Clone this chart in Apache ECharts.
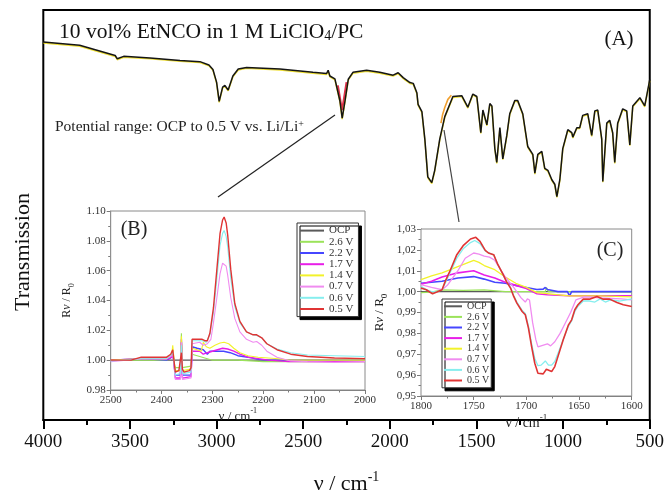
<!DOCTYPE html>
<html>
<head>
<meta charset="utf-8">
<script src="https://cdn.jsdelivr.net/npm/echarts@6/dist/echarts.min.js"></script>
<style>
  html, body { margin: 0; padding: 0; background: #fff; }
  #chart { width: 667px; height: 500px; }
</style>
</head>
<body>
<div id="chart"></div>
<script>
// ---- Panel (A): full FTIR transmission spectrum, [wavenumber cm-1, transmission a.u.] ----
const mainSpectrum = [
  [4000,92.2],[3790,91.4],[3585,88.9],[3573,88.1],[3536,88.7],[3384,88.3],[3211,87.7],[3096,87.4],
  [3044,86.6],[3021,85.5],[3000,82.4],[2985,77.7],[2965,81.2],[2952,81.6],[2933,80.5],[2906,83.9],
  [2875,85.6],[2827,86.0],[2634,85.6],[2444,84.8],[2365,84.5],[2356,85.3],[2346,83.9],[2317,83.2],
  [2288,77.8],[2275,73.6],[2259,77.8],[2240,83.1],[2213,84.8],[2134,85.3],[2058,84.8],[1981,84.1],
  [1952,84.7],[1923,83.5],[1884,82.3],[1865,82.1],[1844,79.8],[1837,77.0],[1815,75.2],[1798,68.5],
  [1781,59.3],[1758,57.9],[1741,60.9],[1712,68.5],[1683,74.0],[1636,78.9],[1585,79.1],[1550,76.3],
  [1521,79.5],[1498,78.9],[1475,70.1],[1463,75.6],[1440,72.0],[1423,77.2],[1411,76.6],[1394,66.2],
  [1383,62.8],[1365,71.3],[1348,63.7],[1325,69.4],[1308,74.7],[1279,77.9],[1262,77.9],[1233,74.7],
  [1204,66.7],[1175,64.8],[1163,60.2],[1146,64.8],[1123,65.5],[1106,61.4],[1088,60.9],[1065,58.6],
  [1048,57.5],[1036,54.5],[1019,58.6],[1002,66.2],[973,70.8],[950,70.1],[944,69.0],[921,71.3],
  [904,71.3],[887,74.3],[858,74.7],[835,69.4],[817,75.4],[800,75.6],[777,68.5],[771,58.2],
  [748,72.4],[731,73.1],[714,70.1],[702,62.8],[685,72.4],[656,75.9],[633,75.4],[615,67.1],
  [598,76.6],[557,78.6],[529,76.6],[500,83.0]
];
// Polarised spectra that separate from OCP only in a few bands
const mainNcoBand05 = [[2300,81.6],[2288,78.6],[2276,75.6],[2264,78.6],[2250,82.4]];
const mainCoBand14 = [[1705,72.4],[1695,74.6],[1683,76.2],[1665,78.2],[1645,79.2]];

// ---- Panel (B): R/R0 in the NCO region, [wavenumber, R/R0] ----
const ncoOCP = [[2500,1.000],[2250,1.000],[2000,1.000]];
const nco26 = [[2500,1.000],[2440,1.000],[2390,1.000],[2380,1.002],[2378,1.004],[2375,0.997],[2373,0.995],
  [2363,0.995],[2361,1.018],[2359,0.995],[2356,0.995],[2342,0.996],[2340,1.004],[2330,1.003],[2320,1.002],
  [2300,1.000],[2250,1.000],[2200,0.999],[2100,0.999],[2000,0.999]];
const nco22 = [[2500,1.000],[2440,1.001],[2390,1.000],[2380,1.002],[2378,1.005],[2375,0.996],[2373,0.990],
  [2363,0.990],[2361,1.012],[2359,0.990],[2356,0.989],[2342,0.990],[2340,1.009],[2330,1.008],[2318,1.007],
  [2310,1.004],[2305,1.006],[2290,1.006],[2278,1.006],[2265,1.005],[2250,1.003],[2230,1.002],[2210,1.0005],
  [2190,1.000],[2100,1.000],[2000,1.000]];
const nco17 = [[2500,1.000],[2440,1.001],[2390,1.0005],[2380,1.002],[2378,1.005],[2375,0.996],[2373,0.988],
  [2363,0.988],[2361,1.014],[2359,0.988],[2356,0.987],[2342,0.989],[2340,1.006],[2325,1.006],[2318,1.004],
  [2310,1.005],[2300,1.006],[2290,1.007],[2280,1.008],[2270,1.0075],[2258,1.006],[2246,1.004],[2230,1.002],
  [2210,1.001],[2190,1.000],[2150,0.999],[2100,0.999],[2000,0.999]];
const nco14 = [[2500,1.000],[2440,1.001],[2390,1.001],[2380,1.004],[2378,1.010],[2375,0.999],[2373,0.993],
  [2363,0.993],[2361,1.016],[2359,0.993],[2356,0.993],[2342,0.994],[2340,1.008],[2330,1.007],[2322,1.006],
  [2318,1.012],[2312,1.009],[2305,1.008],[2295,1.010],[2285,1.0115],[2277,1.012],[2268,1.011],[2258,1.008],
  [2246,1.005],[2230,1.003],[2210,1.002],[2190,1.0015],[2170,1.001],[2150,1.000],[2100,1.000],[2000,1.000]];
const nco07 = [[2500,0.999],[2440,1.001],[2390,1.001],[2380,1.003],[2378,1.005],[2375,0.995],[2373,0.987],
  [2363,0.987],[2361,1.012],[2359,0.987],[2356,0.986],[2342,0.988],[2340,1.011],[2325,1.012],[2318,1.010],
  [2310,1.011],[2303,1.014],[2298,1.025],[2292,1.040],[2285,1.058],[2280,1.065],[2277,1.066],[2273,1.063],
  [2270,1.057],[2264,1.042],[2256,1.028],[2246,1.019],[2233,1.014],[2220,1.012],[2213,1.0125],[2203,1.010],
  [2193,1.006],[2173,1.002],[2146,0.9995],[2113,0.999],[2060,0.9985],[2000,0.999]];
const nco06 = [[2500,0.9995],[2440,1.001],[2390,1.001],[2380,1.004],[2378,1.006],[2375,0.997],[2373,0.990],
  [2363,0.991],[2361,1.010],[2359,0.991],[2356,0.990],[2342,0.992],[2340,1.013],[2320,1.013],[2312,1.012],
  [2305,1.017],[2298,1.032],[2292,1.052],[2285,1.077],[2280,1.085],[2277,1.087],[2273,1.083],[2270,1.076],
  [2264,1.055],[2256,1.036],[2246,1.025],[2233,1.019],[2220,1.017],[2213,1.0165],[2203,1.015],[2193,1.011],
  [2173,1.0075],[2146,1.005],[2113,1.0035],[2060,1.003],[2000,1.0025]];
const nco05 = [[2500,1.000],[2460,1.000],[2440,1.002],[2410,1.002],[2390,1.002],[2382,1.004],[2378,1.007],
  [2375,0.998],[2373,0.992],[2366,0.993],[2363,0.994],[2361,1.005],[2359,0.994],[2356,0.992],[2345,0.993],
  [2342,0.995],[2340,1.014],[2330,1.014],[2320,1.014],[2314,1.013],[2310,1.013],[2305,1.018],[2298,1.035],
  [2292,1.058],[2285,1.085],[2280,1.094],[2277,1.096],[2273,1.092],[2270,1.084],[2264,1.061],[2256,1.038],
  [2246,1.026],[2233,1.019],[2220,1.017],[2213,1.017],[2203,1.015],[2193,1.011],[2173,1.007],[2146,1.004],
  [2113,1.0025],[2060,1.0015],[2000,1.001]];

// ---- Panel (C): R/R0 in the carbonyl region, [wavenumber, R/R0] ----
const coOCP = [[1800,1.000],[1700,1.000],[1600,1.000]];
const co26 = [[1800,0.9995],[1790,0.9998],[1780,1.0008],[1760,1.0006],[1740,1.0008],[1720,1.000],[1700,1.000],
  [1682,1.000],[1681,1.002],[1679,1.000],[1650,1.000],[1600,0.9998]];
const co22 = [[1800,1.004],[1780,1.005],[1765,1.0065],[1750,1.0072],[1740,1.006],[1730,1.0045],[1720,1.004],
  [1710,1.003],[1700,1.002],[1690,1.001],[1684,1.0012],[1682,1.002],[1680,1.001],[1670,1.000],[1661,1.000],
  [1659,0.998],[1657,1.000],[1640,1.000],[1600,1.000]];
const co17 = [[1800,1.0035],[1790,1.005],[1780,1.007],[1765,1.009],[1750,1.010],[1740,1.008],[1730,1.0065],
  [1720,1.0045],[1710,1.003],[1700,1.0015],[1690,0.999],[1680,0.9985],[1660,0.998],[1640,0.998],[1620,0.998],
  [1600,0.998]];
const co14 = [[1800,1.0057],[1790,1.0075],[1780,1.009],[1765,1.012],[1750,1.015],[1745,1.014],[1740,1.0125],
  [1730,1.0105],[1720,1.007],[1710,1.004],[1700,1.002],[1690,0.9995],[1680,0.999],[1660,0.998],[1630,0.998],
  [1600,0.9975]];
const co07 = [[1800,1.0033],[1790,1.002],[1780,1.0009],[1775,1.003],[1765,1.010],[1758,1.016],[1750,1.0185],
  [1745,1.018],[1740,1.017],[1735,1.0165],[1730,1.015],[1725,1.011],[1720,1.007],[1712,1.002],[1705,0.997],
  [1701,0.995],[1699,0.9965],[1697,0.996],[1694,0.985],[1691,0.977],[1689,0.9735],[1686,0.974],[1683,0.9745],
  [1680,0.975],[1677,0.974],[1673,0.976],[1668,0.980],[1663,0.985],[1658,0.990],[1653,0.996],[1645,0.9975],
  [1630,0.997],[1610,0.9965],[1600,0.996]];
const co06 = [[1800,1.0025],[1795,1.001],[1790,1.000],[1785,1.000],[1780,1.001],[1777,1.004],[1772,1.0095],
  [1766,1.016],[1760,1.0205],[1753,1.0235],[1749,1.0245],[1744,1.023],[1739,1.0195],[1735,1.0185],[1731,1.0175],
  [1727,1.013],[1722,1.008],[1719,1.005],[1715,1.002],[1712,0.998],[1709,0.995],[1704,0.991],[1701,0.9895],
  [1698,0.9835],[1695,0.975],[1692,0.968],[1689,0.9645],[1686,0.9648],[1682,0.9668],[1679,0.9648],[1676,0.9648],
  [1673,0.9665],[1668,0.973],[1665,0.977],[1660,0.9835],[1657,0.986],[1654,0.9905],[1651,0.993],[1646,0.9955],
  [1640,0.9955],[1635,0.995],[1630,0.9965],[1625,0.995],[1620,0.996],[1612,0.9955],[1605,0.996],[1600,0.9965]];
const co05 = [[1800,1.0017],[1795,1.0009],[1791,0.9996],[1789,0.999],[1785,0.9998],[1780,1.0009],[1777,1.0049],
  [1772,1.0105],[1766,1.0177],[1760,1.022],[1753,1.0252],[1748,1.026],[1744,1.0241],[1739,1.0198],[1736,1.0185],
  [1731,1.0177],[1727,1.0129],[1722,1.0081],[1719,1.0049],[1715,1.0017],[1712,0.9977],[1709,0.9945],[1704,0.9905],
  [1701,0.9889],[1698,0.9825],[1695,0.9737],[1692,0.9657],[1689,0.9609],[1684,0.9606],[1681,0.9628],[1676,0.9617],
  [1673,0.9641],[1668,0.9721],[1665,0.9769],[1660,0.9841],[1657,0.9865],[1654,0.9913],[1651,0.9937],[1646,0.9964],
  [1640,0.9964],[1633,0.9977],[1627,0.9964],[1621,0.9964],[1614,0.9948],[1608,0.9937],[1600,0.9929]];

const potentials = ['OCP', '2.6 V', '2.2 V', '1.7 V', '1.4 V', '0.7 V', '0.6 V', '0.5 V'];
const potentialColors = ['#5a5a5a', '#9be35a', '#4646ff', '#e81ee8', '#f2f22a', '#f08cf0', '#86eeee', '#e03434'];
const ncoSets = [ncoOCP, nco26, nco22, nco17, nco14, nco07, nco06, nco05];
const coSets = [coOCP, co26, co22, co17, co14, co07, co06, co05];

const SERIF = '"Liberation Serif", "Times New Roman", serif';
const INK = '#111';
const plainNumber = function (v) { return String(v); };

function axisTitleRich(size, color) {
  return {
    fontFamily: SERIF, fontSize: size, color: color,
    rich: {
      a: { fontFamily: SERIF, fontSize: size, color: color, lineHeight: size + 6 },
      i: { fontFamily: SERIF, fontSize: size, color: color, fontStyle: 'italic', lineHeight: size + 6 },
      s: { fontFamily: SERIF, fontSize: Math.round(size * 0.65), color: color, verticalAlign: 'top' },
      b: { fontFamily: SERIF, fontSize: Math.round(size * 0.7), color: color, verticalAlign: 'bottom' }
    }
  };
}

function insetAxis(extra) {
  return Object.assign({
    type: 'value',
    splitLine: { show: false },
    axisLine: { show: true, lineStyle: { color: '#7a7a7a', width: 1 } },
    axisTick: { show: true, length: 4, lineStyle: { color: '#7a7a7a', width: 1 } },
    minorTick: { show: true, splitNumber: 2, length: 2.5, lineStyle: { color: '#7a7a7a', width: 1 } },
    axisLabel: { fontFamily: SERIF, fontSize: 11, color: '#333', margin: 5, formatter: plainNumber }
  }, extra);
}

const series = [];
// Panel (A)
series.push({
  name: 'spectrum 0.5 V', type: 'line', xAxisIndex: 0, yAxisIndex: 0, data: mainNcoBand05,
  symbol: 'none', silent: true, z: 3, lineStyle: { color: '#e0304a', width: 2 }
});
series.push({
  name: 'spectrum 1.4 V', type: 'line', xAxisIndex: 0, yAxisIndex: 0, data: mainCoBand14,
  symbol: 'none', silent: true, z: 3, lineStyle: { color: '#f0a030', width: 1.6 }
});
series.push({
  name: 'spectrum OCP', type: 'line', xAxisIndex: 0, yAxisIndex: 0, data: mainSpectrum,
  symbol: 'none', silent: true, z: 4,
  lineStyle: { color: '#151515', width: 1.5, shadowColor: 'rgba(235,215,0,0.8)', shadowOffsetY: 0.9, shadowBlur: 0 }
});
// Panels (B) and (C)
potentials.forEach(function (name, k) {
  const w = (name === '2.2 V' || name === '1.7 V' || name === '0.5 V') ? 1.4 : 1.1;
  series.push({
    name: name, type: 'line', xAxisIndex: 1, yAxisIndex: 1, data: ncoSets[k], symbol: 'none',
    silent: true, z: 5 + k, clip: true,
    itemStyle: { color: potentialColors[k] }, lineStyle: { color: potentialColors[k], width: w }
  });
  series.push({
    name: name, type: 'line', xAxisIndex: 2, yAxisIndex: 2, data: coSets[k], symbol: 'none',
    silent: true, z: 5 + k, clip: true,
    itemStyle: { color: potentialColors[k] }, lineStyle: { color: potentialColors[k], width: w + 0.2 }
  });
});

const legendBase = {
  orient: 'vertical', icon: 'rect', itemHeight: 2, itemGap: 0, selectedMode: false,
  backgroundColor: '#fff', borderColor: '#333', borderWidth: 1,
  shadowColor: '#000', shadowBlur: 0, shadowOffsetX: 3, shadowOffsetY: 3,
  data: potentials
};

const option = {
  animation: false,
  backgroundColor: '#fff',
  grid: [
    { left: 43.3, top: 10, right: 17, bottom: 55, show: true, borderColor: '#000', borderWidth: 2, backgroundColor: 'transparent' },
    { left: 110.7, top: 211, width: 254.3, height: 179, show: true, borderColor: '#8a8a8a', borderWidth: 1, backgroundColor: '#fff', z: 1 },
    { left: 421, top: 229, width: 210.7, height: 167, show: true, borderColor: '#8a8a8a', borderWidth: 1, backgroundColor: '#fff', z: 1 }
  ],
  xAxis: [
    {
      gridIndex: 0, type: 'value', min: 500, max: 4000, interval: 500, inverse: true,
      splitLine: { show: false },
      axisLine: { lineStyle: { color: '#000', width: 2 } },
      axisTick: { length: 9, lineStyle: { color: '#000', width: 2 } },
      minorTick: { show: true, splitNumber: 2, length: 5, lineStyle: { color: '#000', width: 2 } },
      axisLabel: { fontFamily: SERIF, fontSize: 19, color: INK, margin: 13, formatter: plainNumber },
      name: '{a|ν / cm}{s|-1}', nameLocation: 'middle', nameGap: 50,
      nameTextStyle: axisTitleRich(22, INK)
    },
    insetAxis({
      gridIndex: 1, min: 2000, max: 2500, interval: 100, inverse: true,
      name: '{a|ν / cm}{s|-1}', nameLocation: 'middle', nameGap: 17,
      nameTextStyle: axisTitleRich(13, '#222')
    }),
    insetAxis({
      gridIndex: 2, min: 1600, max: 1800, interval: 50, inverse: true,
      name: '{a|ν / cm}{s|-1}', nameLocation: 'middle', nameGap: 16,
      nameTextStyle: axisTitleRich(14, '#222')
    })
  ],
  yAxis: [
    { gridIndex: 0, type: 'value', min: 0, max: 100, show: false },
    insetAxis({
      gridIndex: 1, min: 0.98, max: 1.10, interval: 0.02,
      axisLabel: { fontFamily: SERIF, fontSize: 11, color: '#333', margin: 5, formatter: function (v) { return v.toFixed(2); } },
      name: '{a|R}{i|ν}{a| / R}{b|0}', nameLocation: 'middle', nameGap: 35,
      nameTextStyle: axisTitleRich(12, '#222')
    }),
    insetAxis({
      gridIndex: 2, min: 0.95, max: 1.03, interval: 0.01,
      axisLabel: { fontFamily: SERIF, fontSize: 11, color: '#333', margin: 5, formatter: function (v) { return v.toFixed(2).replace('.', ','); } },
      name: '{a|R}{i|ν}{a| / R}{b|0}', nameLocation: 'middle', nameGap: 32,
      nameTextStyle: axisTitleRich(13, '#222')
    })
  ],
  legend: [
    Object.assign({}, legendBase, {
      left: 297, top: 223, itemWidth: 24, padding: [2, 5, 2, 3],
      textStyle: { fontFamily: SERIF, fontSize: 11, color: '#333', lineHeight: 11.2 }
    }),
    Object.assign({}, legendBase, {
      left: 442, top: 299, itemWidth: 18, padding: [2, 2, 2, 2],
      textStyle: { fontFamily: SERIF, fontSize: 10, color: '#333', lineHeight: 10.6 }
    })
  ],
  graphic: [
    {
      type: 'text', x: 59, y: 32, z: 20,
      style: {
        text: '10 vol% EtNCO in 1 M LiClO{b|4}/PC', fill: INK, font: '21.5px ' + SERIF,
        textAlign: 'left', textVerticalAlign: 'middle',
        rich: { b: { fontFamily: SERIF, fontSize: 14, fill: INK, verticalAlign: 'bottom' } }
      }
    },
    { type: 'text', x: 619, y: 39, z: 20, style: { text: '(A)', fill: INK, font: '21px ' + SERIF, textAlign: 'center', textVerticalAlign: 'middle' } },
    {
      type: 'text', x: 55, y: 127, z: 20,
      style: {
        text: 'Potential range: OCP to 0.5 V vs. Li/Li{s|+}', fill: '#222', font: '15.5px ' + SERIF,
        textAlign: 'left', textVerticalAlign: 'middle',
        rich: { s: { fontFamily: SERIF, fontSize: 10, fill: '#222', verticalAlign: 'top' } }
      }
    },
    { type: 'text', x: 23, y: 252, rotation: Math.PI / 2, z: 20, style: { text: 'Transmission', fill: INK, font: '22px ' + SERIF, textAlign: 'center', textVerticalAlign: 'middle' } },
    { type: 'text', x: 134, y: 230, z: 20, style: { text: '(B)', fill: '#222', font: '20px ' + SERIF, textAlign: 'center', textVerticalAlign: 'middle' } },
    { type: 'text', x: 610, y: 251, z: 20, style: { text: '(C)', fill: '#222', font: '20px ' + SERIF, textAlign: 'center', textVerticalAlign: 'middle' } },
    // callout lines from the bands to the zoomed panels
    { type: 'line', z: 20, shape: { x1: 335, y1: 115, x2: 218, y2: 197 }, style: { stroke: '#222', lineWidth: 1.2 } },
    { type: 'line', z: 20, shape: { x1: 444, y1: 130, x2: 459, y2: 222 }, style: { stroke: '#444', lineWidth: 1.2 } }
  ],
  series: series
};

const chart = echarts.init(document.getElementById('chart'), null, { renderer: 'canvas' });
chart.setOption(option);
</script>
</body>
</html>
